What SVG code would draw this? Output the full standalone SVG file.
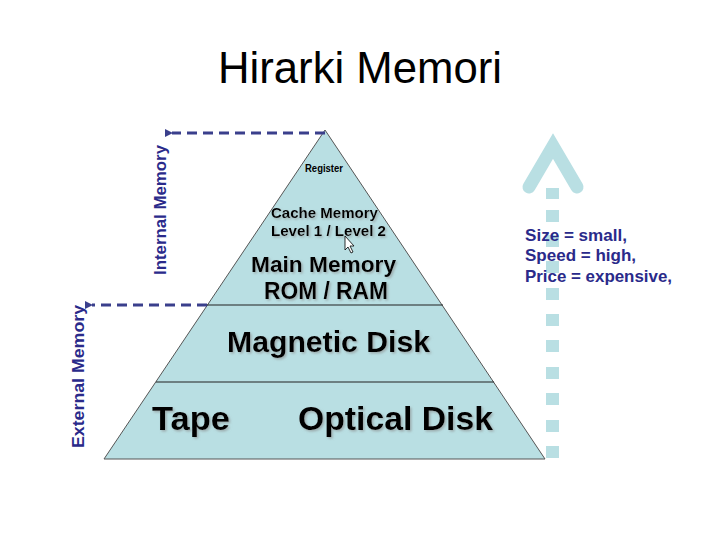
<svg xmlns="http://www.w3.org/2000/svg" width="720" height="540" viewBox="0 0 720 540">
<defs>
<style>
.t{font-family:"Liberation Sans",Arial,sans-serif;font-weight:bold;fill:#000;text-anchor:middle}
.side{font-family:"Liberation Sans",Arial,sans-serif;font-weight:bold;fill:#2a2a8a;font-size:17px}
.dash{stroke:#3a3f8c;stroke-width:3;stroke-dasharray:10 6;fill:none}
.sq{fill:#b9dfe3}
</style>
<marker id="ah" markerWidth="8" markerHeight="8" refX="1" refY="4" orient="auto" markerUnits="userSpaceOnUse">
<path d="M8,0 L0,4 L8,8 Z" fill="#3a3f8c"/>
</marker>
<filter id="sh" x="-10%" y="-10%" width="120%" height="130%">
<feDropShadow dx="1.5" dy="1.5" stdDeviation="0.8" flood-color="#888" flood-opacity="0.6"/>
</filter>
</defs>
<rect width="720" height="540" fill="#fff"/>
<text x="360" y="83" font-family="'Liberation Sans',Arial,sans-serif" font-size="44" text-anchor="middle" fill="#000" textLength="284" lengthAdjust="spacingAndGlyphs">Hirarki Memori</text>

<g id="pyramid">
<polygon points="325,130 545,459 104,459" fill="#b9dfe3" stroke="#555" stroke-width="1"/>
<line x1="207" y1="305" x2="443" y2="305" stroke="#222" stroke-width="1.2"/>
<line x1="156" y1="382" x2="494" y2="382" stroke="#222" stroke-width="1.2"/>
</g>

<g id="register"><text class="t" x="324" y="172" font-size="10" font-weight="normal" fill="#333" textLength="38" lengthAdjust="spacingAndGlyphs">Register</text></g>
<g id="cache" filter="url(#sh)">
<text class="t" x="324.5" y="218" font-size="15" textLength="107" lengthAdjust="spacingAndGlyphs">Cache Memory</text>
<text class="t" x="328.5" y="236" font-size="15" textLength="115" lengthAdjust="spacingAndGlyphs">Level 1 / Level 2</text>
</g>
<g id="cursor"><path d="M345,236 L345,250 L348,247 L351,253 L353,252 L350,246 L354,246 Z" fill="#fff" stroke="#000" stroke-width="0.8"/></g>
<g id="main" filter="url(#sh)">
<text class="t" x="323.5" y="272" font-size="22.5" textLength="145" lengthAdjust="spacingAndGlyphs">Main Memory</text>
<text class="t" x="326" y="299" font-size="23" textLength="124" lengthAdjust="spacingAndGlyphs">ROM / RAM</text>
</g>
<g id="magnetic" filter="url(#sh)"><text class="t" x="328.5" y="352" font-size="30" textLength="203" lengthAdjust="spacingAndGlyphs">Magnetic Disk</text></g>
<g id="tape" filter="url(#sh)"><text class="t" x="191" y="430" font-size="34" textLength="78" lengthAdjust="spacingAndGlyphs">Tape</text></g>
<g id="optical" filter="url(#sh)"><text class="t" x="395.5" y="430" font-size="34" textLength="195" lengthAdjust="spacingAndGlyphs">Optical Disk</text></g>

<g id="connectors">
<line class="dash" x1="325" y1="133" x2="172" y2="133" marker-end="url(#ah)"/>
<line class="dash" x1="207" y1="305" x2="92" y2="305" marker-end="url(#ah)"/>
</g>

<g id="internal"><text class="side" transform="translate(166,210) rotate(-90)" text-anchor="middle" textLength="130" lengthAdjust="spacingAndGlyphs">Internal Memory</text></g>
<g id="external"><text class="side" transform="translate(84,376.5) rotate(-90)" text-anchor="middle" textLength="143" lengthAdjust="spacingAndGlyphs">External  Memory</text></g>

<g id="scale-arrow">
<polyline points="529,187 553,146 577,187" fill="none" stroke="#b9dfe3" stroke-width="13" stroke-linecap="round" stroke-linejoin="miter"/>
<rect class="sq" x="546" y="188" width="13" height="11"/>
<rect class="sq" x="546" y="210" width="13" height="12"/>
<rect class="sq" x="546" y="235" width="13" height="12"/>
<rect class="sq" x="546" y="261" width="13" height="12"/>
<rect class="sq" x="546" y="288" width="13" height="12"/>
<rect class="sq" x="546" y="314" width="13" height="12"/>
<rect class="sq" x="546" y="340" width="13" height="12"/>
<rect class="sq" x="546" y="367" width="13" height="12"/>
<rect class="sq" x="546" y="393" width="13" height="12"/>
<rect class="sq" x="546" y="420" width="13" height="12"/>
<rect class="sq" x="546" y="446" width="13" height="12"/>
</g>
<g id="props">
<text class="side" x="525" y="241" fill="#1c1c7c" textLength="102" lengthAdjust="spacingAndGlyphs">Size = small,</text>
<text class="side" x="525" y="261" fill="#1c1c7c" textLength="111" lengthAdjust="spacingAndGlyphs">Speed = high,</text>
<text class="side" x="525" y="282" fill="#1c1c7c" textLength="147" lengthAdjust="spacingAndGlyphs">Price = expensive,</text>
</g>
</svg>
